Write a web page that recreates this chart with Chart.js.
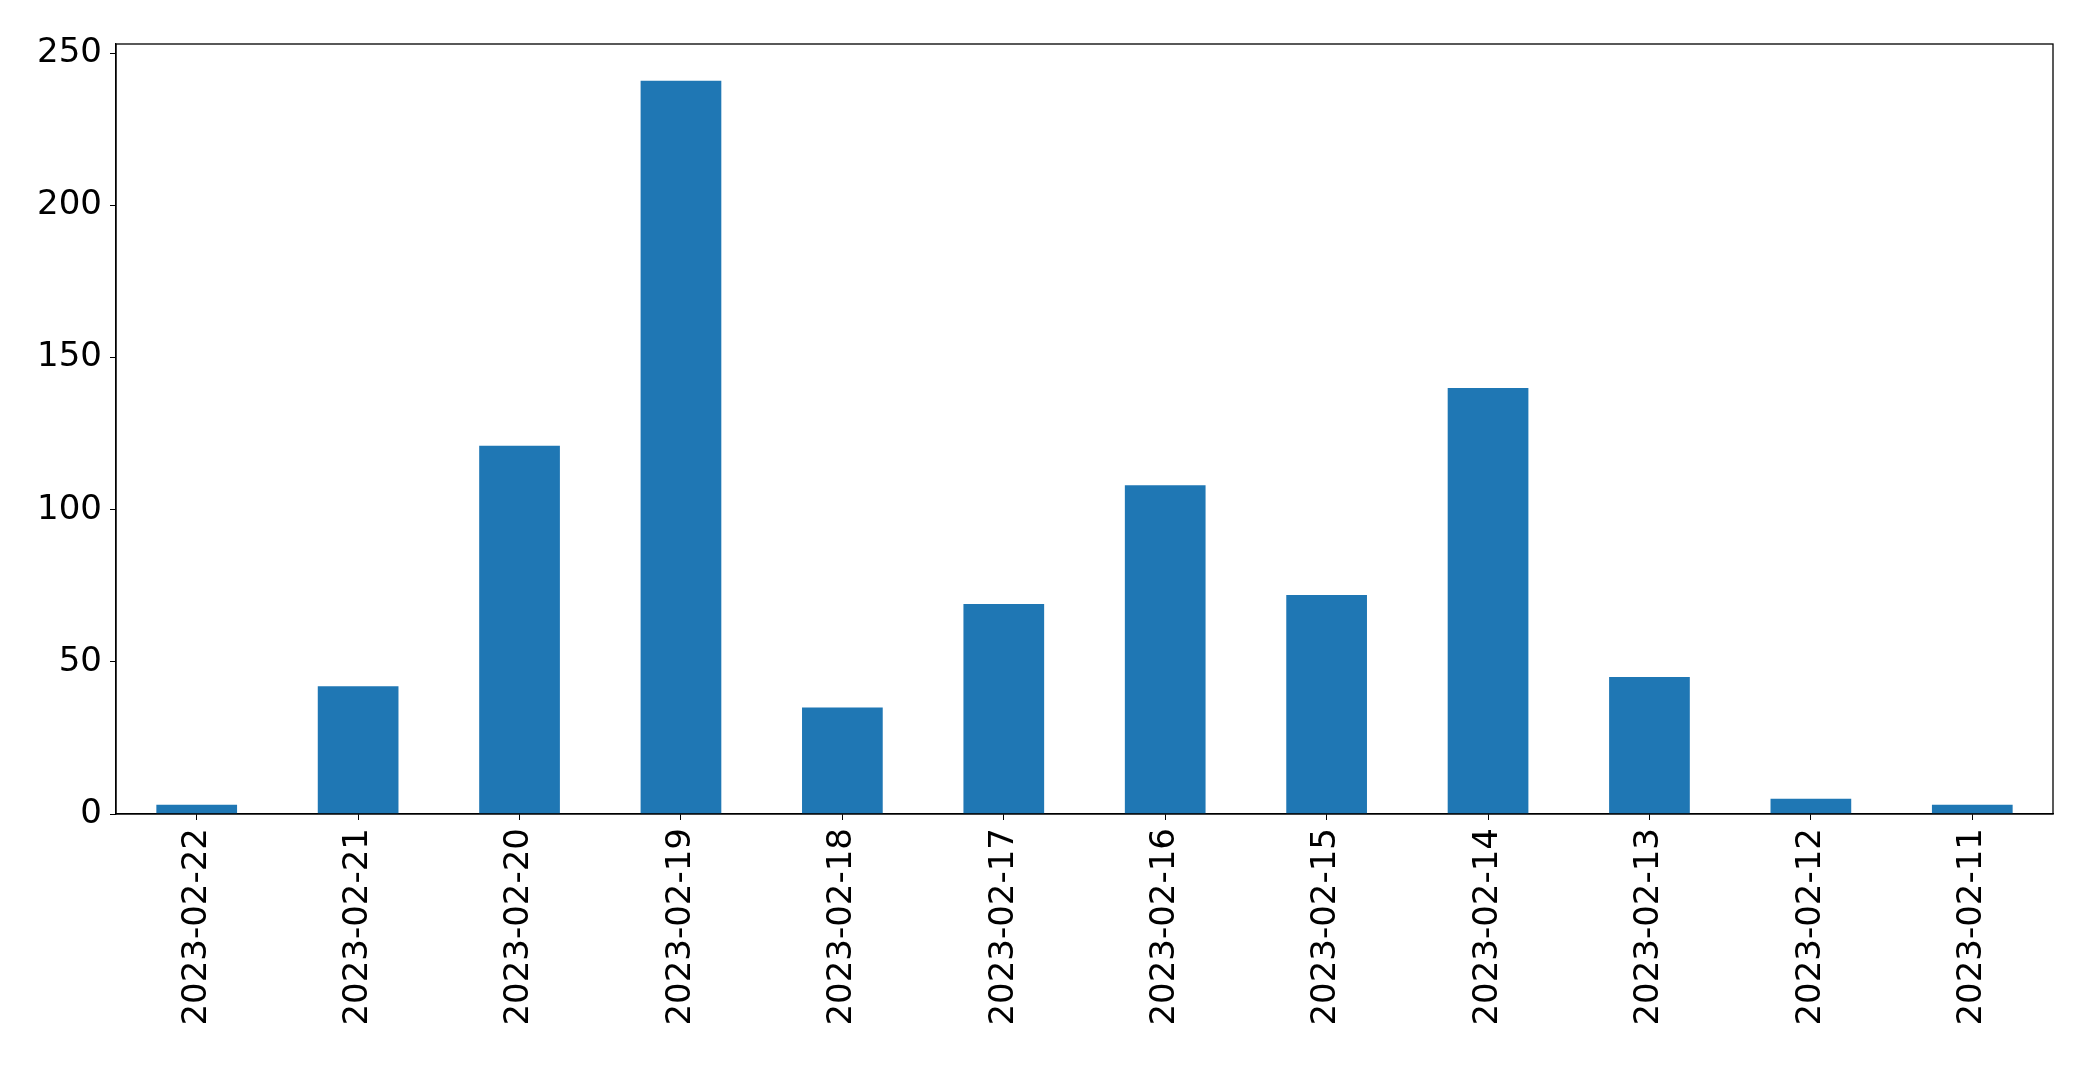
<!DOCTYPE html>
<html>
<head>
<meta charset="utf-8">
<script src="https://cdn.jsdelivr.net/npm/chart.js@4/dist/chart.umd.min.js"></script>
<style>
  html, body { margin: 0; padding: 0; background: #fff; }
  #wrap { width: 2093px; height: 1066px; }
</style>
</head>
<body>
<div id="wrap"><canvas id="myChart" width="2093" height="1066"></canvas></div>
<script>
// data
const dates = ['2023-02-22', '2023-02-21', '2023-02-20', '2023-02-19', '2023-02-18', '2023-02-17',
    '2023-02-16', '2023-02-15', '2023-02-14', '2023-02-13', '2023-02-12', '2023-02-11'];
const counts = [3, 42, 121, 241, 35, 69, 108, 72, 140, 45, 5, 3];
const yTicks = [0, 50, 100, 150, 200, 250];
const yMax = 253.05;

const tickFont = { family: 'DejaVu Sans', size: 34 };

// draws the top and right edges of the frame
const frame = {
    id: 'frame',
    afterDraw(chart) {
        const { ctx, chartArea: a } = chart;
        ctx.save();
        ctx.strokeStyle = '#000';
        ctx.lineWidth = 1.3;
        ctx.strokeRect(a.left, a.top, a.right - a.left, a.bottom - a.top);
        ctx.restore();
    }
};

const myChart = new Chart(document.getElementById('myChart'), {
    type: 'bar',
    data: {
        labels: dates,
        datasets: [{
            data: counts,
            backgroundColor: '#1f77b4',
            barPercentage: 0.5,
            categoryPercentage: 1.0
        }]
    },
    options: {
        responsive: false,
        animation: false,
        devicePixelRatio: 1,
        layout: { padding: { top: 44, right: 40, left: 0, bottom: 0 } },
        plugins: { legend: { display: false }, tooltip: { enabled: false } },
        scales: {
            x: {
                offset: true,
                grid: { display: true, drawOnChartArea: false, tickLength: 6, tickColor: '#000', offset: false },
                border: { display: true, color: '#000', width: 1.3 },
                ticks: {
                    color: '#000', font: tickFont, minRotation: 90, maxRotation: 90,
                    autoSkip: false, padding: 8
                },
                afterFit(scale) { scale.height = 1066 - 814; }
            },
            y: {
                min: 0,
                max: yMax,
                grid: { display: true, drawOnChartArea: false, tickLength: 6, tickColor: '#000' },
                border: { display: true, color: '#000', width: 1.3 },
                ticks: { color: '#000', font: tickFont, padding: 8, includeBounds: false },
                afterBuildTicks(scale) { scale.ticks = yTicks.map(v => ({ value: v })); },
                afterFit(scale) { scale.width = 116; }
            }
        }
    },
    plugins: [frame]
});
</script>
</body>
</html>
